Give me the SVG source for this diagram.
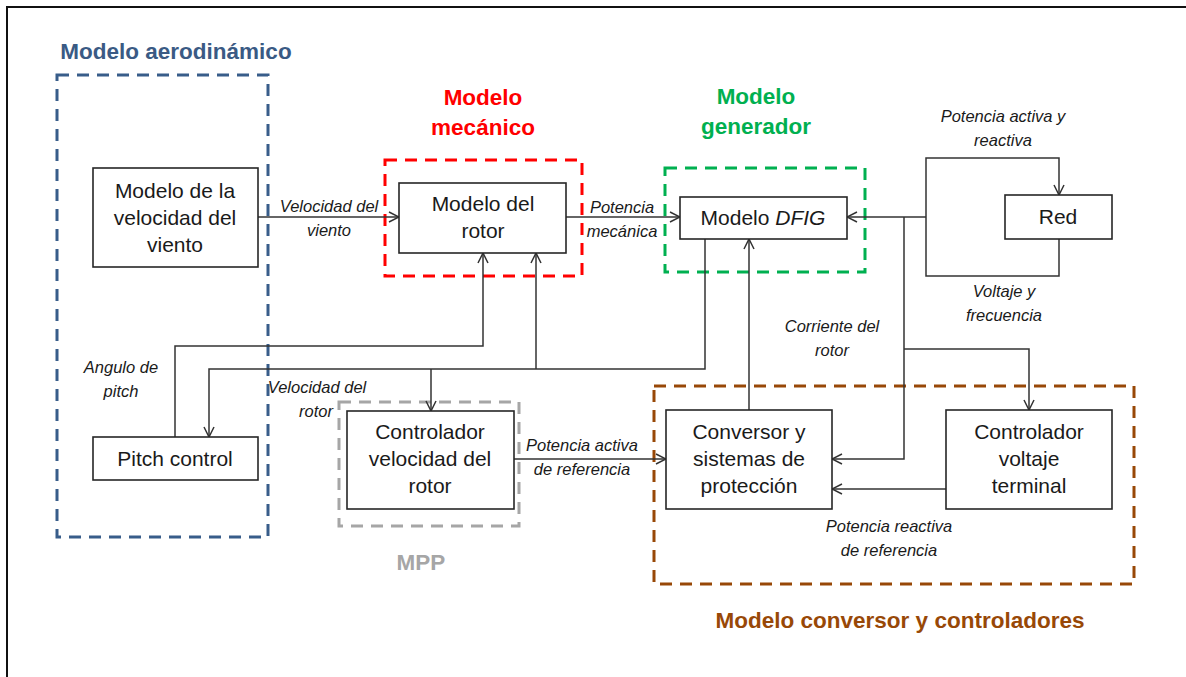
<svg xmlns="http://www.w3.org/2000/svg" width="1186" height="677" viewBox="0 0 1186 677">
<defs>
<marker id="arr" viewBox="0 0 12 12" refX="11" refY="6" markerWidth="12" markerHeight="12" markerUnits="userSpaceOnUse" orient="auto">
<path d="M1,1 L11,6 L1,11" fill="none" stroke="#333" stroke-width="1.5"/>
</marker>
</defs>
<style>
.box{fill:#fff;stroke:#262626;stroke-width:1.6}
.bt{font-family:"Liberation Sans",Arial,sans-serif;font-size:21px;fill:#1a1a1a;text-anchor:middle}
.lb{font-family:"Liberation Sans",Arial,sans-serif;font-size:16.5px;font-style:italic;fill:#1a1a1a;text-anchor:middle}
.ttl{font-family:"Liberation Sans",Arial,sans-serif;font-size:22.5px;font-weight:bold;text-anchor:middle}
.dash{fill:none;stroke-width:3;stroke-dasharray:12,8}
.cn{fill:none;stroke:#333;stroke-width:1.5}
</style>
<rect width="1186" height="677" fill="#fff"/>
<path d="M7,677 V7 H1186" fill="none" stroke="#111" stroke-width="2"/>

<g id="group-aero">
<rect class="dash" x="57" y="75" width="211" height="462" stroke="#385D8A"/>
<text class="ttl" x="176" y="59" fill="#3A5A84">Modelo aerodinámico</text>
</g>
<g id="group-mec">
<rect class="dash" x="385" y="160" width="197" height="116" stroke="#FF0000"/>
<text class="ttl" x="483" y="105" fill="#FF0000">Modelo</text>
<text class="ttl" x="483" y="135" fill="#FF0000">mecánico</text>
</g>
<g id="group-gen">
<rect class="dash" x="665" y="168" width="200" height="104" stroke="#00B050"/>
<text class="ttl" x="756" y="104" fill="#00B050">Modelo</text>
<text class="ttl" x="756" y="134" fill="#00B050">generador</text>
</g>
<g id="group-mpp">
<rect class="dash" x="339" y="402" width="180" height="124" stroke="#A6A6A6"/>
<text class="ttl" x="421" y="570" fill="#A6A6A6">MPP</text>
</g>
<g id="group-conv">
<rect class="dash" x="654" y="386" width="480" height="198" stroke="#984807"/>
<text class="ttl" x="900" y="628" fill="#984807">Modelo conversor y controladores</text>
</g>

<g id="connectors">
<path class="cn" d="M258,217 H399" marker-end="url(#arr)"/>
<path class="cn" d="M566,217 H680" marker-end="url(#arr)"/>
<path class="cn" d="M926,217 H847" marker-end="url(#arr)"/>
<path class="cn" d="M926,217 V158 H1059 V195" marker-end="url(#arr)"/>
<path class="cn" d="M1059,239 V276 H926 V217"/>
<path class="cn" d="M175,437 V346 H483 V253" marker-end="url(#arr)"/>
<path class="cn" d="M705,239 V369 H209 V437" marker-end="url(#arr)"/>
<path class="cn" d="M536,369 V253" marker-end="url(#arr)"/>
<path class="cn" d="M431,369 V411" marker-end="url(#arr)"/>
<path class="cn" d="M514,459 H666" marker-end="url(#arr)"/>
<path class="cn" d="M749,410 V239" marker-end="url(#arr)"/>
<path class="cn" d="M904,217 V459 H832" marker-end="url(#arr)"/>
<path class="cn" d="M904,349 H1029 V410" marker-end="url(#arr)"/>
<path class="cn" d="M946,489 H832" marker-end="url(#arr)"/>
<text class="lb" x="329" y="212">Velocidad del</text>
<text class="lb" x="329" y="236">viento</text>
<text class="lb" x="622" y="213">Potencia</text>
<text class="lb" x="622" y="237">mecánica</text>
<text class="lb" x="1003" y="122">Potencia activa y</text>
<text class="lb" x="1003" y="146">reactiva</text>
<text class="lb" x="1004" y="297">Voltaje y</text>
<text class="lb" x="1004" y="321">frecuencia</text>
<text class="lb" x="121" y="373">Angulo de</text>
<text class="lb" x="121" y="397">pitch</text>
<text class="lb" x="317" y="393">Velocidad del</text>
<text class="lb" x="316" y="417">rotor</text>
<text class="lb" x="582" y="451">Potencia activa</text>
<text class="lb" x="582" y="475">de referencia</text>
<text class="lb" x="832" y="332">Corriente del</text>
<text class="lb" x="832" y="356">rotor</text>
<text class="lb" x="889" y="532">Potencia reactiva</text>
<text class="lb" x="889" y="556">de referencia</text>
</g>

<g id="node-viento">
<rect class="box" x="93" y="168" width="165" height="99"/>
<text class="bt" x="175" y="198">Modelo de la</text>
<text class="bt" x="175" y="225">velocidad del</text>
<text class="bt" x="175" y="252">viento</text>
</g>
<g id="node-rotor">
<rect class="box" x="399" y="183" width="167" height="70"/>
<text class="bt" x="483" y="211">Modelo del</text>
<text class="bt" x="483" y="238">rotor</text>
</g>
<g id="node-dfig">
<rect class="box" x="680" y="197" width="167" height="42"/>
<text class="bt" x="763" y="225">Modelo <tspan font-style="italic">DFIG</tspan></text>
</g>
<g id="node-red">
<rect class="box" x="1005" y="195" width="107" height="44"/>
<text class="bt" x="1058" y="224">Red</text>
</g>
<g id="node-pitch">
<rect class="box" x="93" y="437" width="165" height="43"/>
<text class="bt" x="175" y="466">Pitch control</text>
</g>
<g id="node-ctrlvel">
<rect class="box" x="347" y="411" width="167" height="98"/>
<text class="bt" x="430" y="439">Controlador</text>
<text class="bt" x="430" y="466">velocidad del</text>
<text class="bt" x="430" y="493">rotor</text>
</g>
<g id="node-conversor">
<rect class="box" x="666" y="410" width="166" height="99"/>
<text class="bt" x="749" y="439">Conversor y</text>
<text class="bt" x="749" y="466">sistemas de</text>
<text class="bt" x="749" y="493">protección</text>
</g>
<g id="node-ctrlvolt">
<rect class="box" x="946" y="410" width="166" height="99"/>
<text class="bt" x="1029" y="439">Controlador</text>
<text class="bt" x="1029" y="466">voltaje</text>
<text class="bt" x="1029" y="493">terminal</text>
</g>
</svg>
